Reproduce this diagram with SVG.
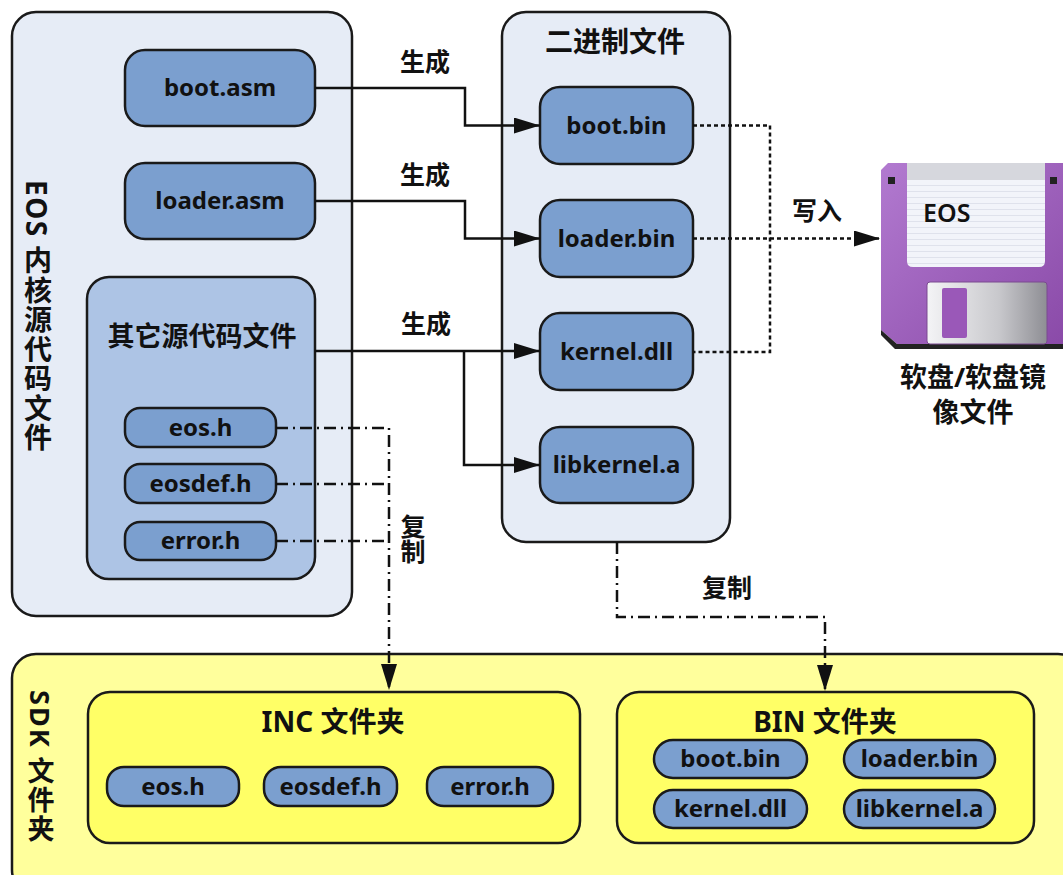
<svg xmlns="http://www.w3.org/2000/svg" width="1063" height="875" viewBox="0 0 1063 875">
<defs>
<style>
.big{fill:#e6ecf6;stroke:#1a1a1a;stroke-width:2.5}
.inner{fill:#adc4e5;stroke:#1a1a1a;stroke-width:2.5}
.pill{fill:#7b9fcf;stroke:#1a1a1a;stroke-width:2.5}
.ybig{fill:#ffff9c;stroke:#1a1a1a;stroke-width:2.5}
.ybox{fill:#ffff66;stroke:#1a1a1a;stroke-width:2.5}
.t{font-family:"Noto Sans","Noto Sans CJK SC",sans-serif;font-weight:bold;fill:#111;text-anchor:middle}
.n{font-size:24px}
.c{font-size:27px}
.v{font-family:"Noto Sans","Noto Sans CJK SC",sans-serif;font-weight:bold;fill:#111;writing-mode:vertical-rl}
.solid{fill:none;stroke:#111;stroke-width:2.5}
.dot{fill:none;stroke:#111;stroke-width:2.5;stroke-dasharray:4 3}
.dd{fill:none;stroke:#111;stroke-width:2.5;stroke-dasharray:12 5 2 5}
</style>
<marker id="arr" viewBox="0 0 26 16" refX="26" refY="8" markerWidth="26" markerHeight="16" markerUnits="userSpaceOnUse" orient="auto">
<path d="M0,0 L26,8 L0,16 z" fill="#111"/>
</marker>
<linearGradient id="purp" x1="0" y1="0" x2="1" y2="1">
<stop offset="0" stop-color="#b27ad0"/>
<stop offset="1" stop-color="#8a4aa8"/>
</linearGradient>
<linearGradient id="shut" x1="0" y1="0" x2="1" y2="0">
<stop offset="0" stop-color="#f4f4f6"/>
<stop offset="0.6" stop-color="#c8c8cc"/>
<stop offset="1" stop-color="#8e8e94"/>
</linearGradient>
<pattern id="lines" width="10" height="6" patternUnits="userSpaceOnUse">
<rect width="10" height="6" fill="#f2f4fa"/>
<line x1="0" y1="5.5" x2="10" y2="5.5" stroke="#dfe2ec" stroke-width="1"/>
</pattern>
</defs>

<g id="eos-src">
<rect class="big" x="12" y="12" width="340" height="604" rx="24"/>
<text class="v" x="37" y="180" font-size="28" letter-spacing="1.5">EOS 内核源代码文件</text>
</g>
<g id="boot-asm">
<rect class="pill" x="125" y="50" width="190" height="76" rx="20"/>
<text class="t n" x="220" y="96">boot.asm</text>
</g>
<g id="loader-asm">
<rect class="pill" x="125" y="163" width="190" height="76" rx="20"/>
<text class="t n" x="220" y="209">loader.asm</text>
</g>
<g id="other-src">
<rect class="inner" x="87" y="277" width="228" height="302" rx="22"/>
<text class="t c" x="202" y="346">其它源代码文件</text>
</g>
<g id="eos-h">
<rect class="pill" x="125" y="408" width="151" height="39" rx="15"/>
<text class="t n" x="200.5" y="436">eos.h</text>
</g>
<g id="eosdef-h">
<rect class="pill" x="125" y="464" width="151" height="39" rx="15"/>
<text class="t n" x="200.5" y="492">eosdef.h</text>
</g>
<g id="error-h">
<rect class="pill" x="125" y="522" width="151" height="38" rx="15"/>
<text class="t n" x="200.5" y="549">error.h</text>
</g>

<g id="bin-files">
<rect class="big" x="502" y="12" width="228" height="530" rx="24"/>
<text class="t" x="615" y="52" font-size="28">二进制文件</text>
</g>
<g id="boot-bin">
<rect class="pill" x="540" y="87" width="153" height="77" rx="20"/>
<text class="t n" x="616.5" y="134">boot.bin</text>
</g>
<g id="loader-bin">
<rect class="pill" x="540" y="200" width="153" height="77" rx="20"/>
<text class="t n" x="616.5" y="247">loader.bin</text>
</g>
<g id="kernel-dll">
<rect class="pill" x="540" y="313" width="153" height="77" rx="20"/>
<text class="t n" x="616.5" y="360">kernel.dll</text>
</g>
<g id="libkernel-a">
<rect class="pill" x="540" y="427" width="153" height="76" rx="20"/>
<text class="t n" x="616.5" y="473">libkernel.a</text>
</g>

<g id="floppy">
<path d="M881,170 L888,163 L1063,163 L1063,344 L897,344 L881,330 z" fill="url(#purp)"/>
<path d="M881,330 L897,344 L1063,344 L1063,349 L895,349 L881,335 z" fill="#222"/>
<path d="M907,163 H1045 V261 Q1045,267 1039,267 H913 Q907,267 907,261 z" fill="url(#lines)"/>
<rect x="907" y="163" width="138" height="17" fill="#d6d7dd"/>
<rect x="888" y="177" width="7" height="7" fill="#222"/>
<rect x="1050" y="177" width="7" height="7" fill="#222"/>
<rect x="927" y="282" width="120" height="62" rx="3" fill="url(#shut)" stroke="#7a4a90" stroke-width="1"/>
<rect x="942" y="288" width="25" height="50" rx="2" fill="#9a58b8"/>
<text x="923" y="222" font-family="'Noto Sans',sans-serif" font-size="25" font-weight="600" fill="#111">EOS</text>
<text class="t c" x="973" y="387">软盘/软盘镜</text>
<text class="t c" x="973" y="422">像文件</text>
</g>

<g id="sdk">
<rect class="ybig" x="12" y="654" width="1070" height="240" rx="24"/>
<text class="v" x="40" y="690" font-size="27" letter-spacing="2">SDK 文件夹</text>
</g>
<g id="inc-folder">
<rect class="ybox" x="88" y="692" width="492" height="151" rx="22"/>
<text class="t" x="333" y="732" font-size="28">INC 文件夹</text>
</g>
<g id="inc-eos-h">
<rect class="pill" x="107" y="767" width="132" height="39" rx="17"/>
<text class="t n" x="173" y="795">eos.h</text>
</g>
<g id="inc-eosdef-h">
<rect class="pill" x="264" y="767" width="133" height="39" rx="17"/>
<text class="t n" x="330.5" y="795">eosdef.h</text>
</g>
<g id="inc-error-h">
<rect class="pill" x="427" y="767" width="126" height="39" rx="17"/>
<text class="t n" x="490" y="795">error.h</text>
</g>
<g id="bin-folder">
<rect class="ybox" x="617" y="692" width="417" height="151" rx="22"/>
<text class="t" x="825" y="732" font-size="28">BIN 文件夹</text>
</g>
<g id="sdk-boot-bin">
<rect class="pill" x="654" y="740" width="153" height="38" rx="19"/>
<text class="t n" x="730.5" y="767">boot.bin</text>
</g>
<g id="sdk-loader-bin">
<rect class="pill" x="844" y="740" width="151" height="38" rx="19"/>
<text class="t n" x="919.5" y="767">loader.bin</text>
</g>
<g id="sdk-kernel-dll">
<rect class="pill" x="654" y="790" width="153" height="38" rx="19"/>
<text class="t n" x="730.5" y="817">kernel.dll</text>
</g>
<g id="sdk-libkernel-a">
<rect class="pill" x="844" y="790" width="151" height="38" rx="19"/>
<text class="t n" x="919.5" y="817">libkernel.a</text>
</g>

<g id="connectors">
<path class="solid" d="M315,88 H465 V125.5 H540" marker-end="url(#arr)"/>
<path class="solid" d="M315,201 H465 V238.5 H540" marker-end="url(#arr)"/>
<path class="solid" d="M315,351 H540" marker-end="url(#arr)"/>
<path class="solid" d="M464,351 V465 H540" marker-end="url(#arr)"/>
<text class="t" x="425" y="71" font-size="25">生成</text>
<text class="t" x="425" y="184" font-size="25">生成</text>
<text class="t" x="426" y="333" font-size="25">生成</text>
<path class="dot" d="M693,125.5 H770 V352 H693"/>
<path class="dot" d="M693,238.5 H880" marker-end="url(#arr)"/>
<text class="t" x="817" y="220" font-size="25">写入</text>
<path class="dd" d="M276,428 H389 V690" marker-end="url(#arr)"/>
<path class="dd" d="M276,484 H389"/>
<path class="dd" d="M276,541 H389"/>
<text class="v" x="412" y="514" font-size="25">复制</text>
<path class="dd" d="M617,542 V617 H825 V691" marker-end="url(#arr)"/>
<text class="t" x="727" y="597" font-size="25">复制</text>
</g>
</svg>
